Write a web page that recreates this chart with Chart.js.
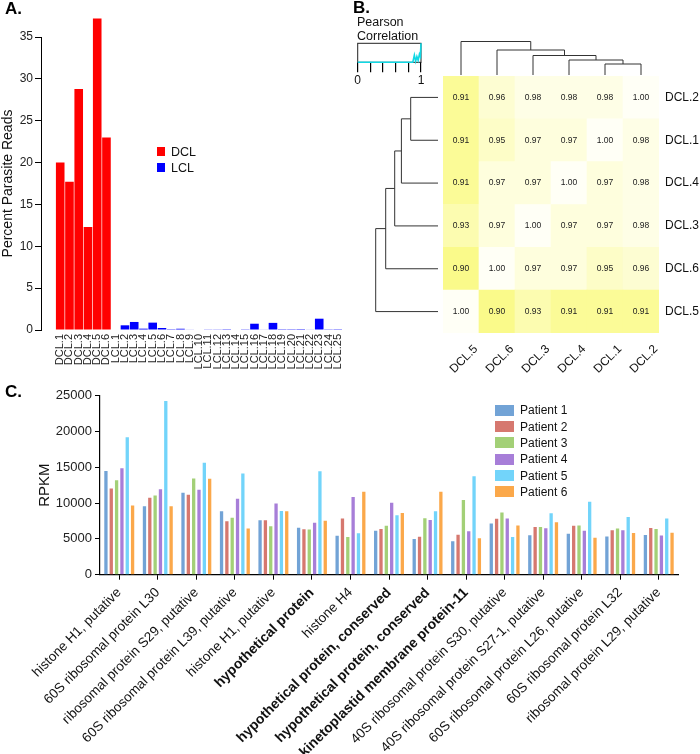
<!DOCTYPE html>
<html><head><meta charset="utf-8">
<script src="https://cdn.jsdelivr.net/npm/chart.js@4.4.1/dist/chart.umd.min.js"></script>
<style>
body{margin:0;background:#fff;font-family:"Liberation Sans",Arial,sans-serif;}
#wrap{position:relative;width:700px;height:754px;overflow:hidden;background:#fff;}
canvas{position:absolute;}
.t{position:absolute;white-space:nowrap;color:#111;line-height:1;}
.pl{font-weight:bold;font-size:17px;color:#000;}
.sw{position:absolute;}
</style></head><body><div id="wrap">
<canvas id="cA" width="355" height="380" style="left:0;top:0"></canvas>
<canvas id="cB" width="360" height="375" style="left:340px;top:0"></canvas>
<canvas id="cK" width="100" height="52" style="left:340px;top:36px"></canvas>
<canvas id="cC" width="700" height="374" style="left:0;top:380px"></canvas>
<div class="t pl" style="left:5px;top:0px">A.</div>
<div class="t pl" style="left:353px;top:-1px">B.</div>
<div class="t pl" style="left:5px;top:383px">C.</div>
<div class="t" style="left:357px;top:15.5px;font-size:12.5px">Pearson</div>
<div class="t" style="left:357px;top:30px;font-size:12.5px">Correlation</div>
<div id="legA"></div>
<div id="legC"></div>
</div>
<script>
// ---------- Panel A data ----------
const sampleLabels = ['DCL.1','DCL.2','DCL.3','DCL.4','DCL.5','DCL.6',
  'LCL.1','LCL.2','LCL.3','LCL.4','LCL.5','LCL.6','LCL.7','LCL.8','LCL.9','LCL.10',
  'LCL.11','LCL.12','LCL.13','LCL.14','LCL.15','LCL.16','LCL.17','LCL.18','LCL.19','LCL.20',
  'LCL.21','LCL.22','LCL.23','LCL.24','LCL.25'];
const dclValues = [20.0, 17.7, 28.8, 12.3, 37.2, 23.0];
const lclValues = [0.0, 0.56, 0.96, 0.16, 0.88, 0.24, 0.02, 0.15, 0.05, 0.0,
  0.04, 0.08, 0.02, 0.0, 0.03, 0.75, 0.05, 0.85, 0.02, 0.02,
  0.01, 0.05, 1.35, 0.03, 0.02];
const percentTicks = [0, 5, 10, 15, 20, 25, 30, 35];

// ---------- Panel B data ----------
const colLabels = ['DCL.5','DCL.6','DCL.3','DCL.4','DCL.1','DCL.2'];
const rowLabels = ['DCL.2','DCL.1','DCL.4','DCL.3','DCL.6','DCL.5'];
const corrDCL2 = [0.91, 0.96, 0.98, 0.98, 0.98, 1.00];
const corrDCL1 = [0.91, 0.95, 0.97, 0.97, 1.00, 0.98];
const corrDCL4 = [0.91, 0.97, 0.97, 1.00, 0.97, 0.98];
const corrDCL3 = [0.93, 0.97, 1.00, 0.97, 0.97, 0.98];
const corrDCL6 = [0.90, 1.00, 0.97, 0.97, 0.95, 0.96];
const corrDCL5 = [1.00, 0.90, 0.93, 0.91, 0.91, 0.91];
// dendrogram link heights, merges: leaf/cluster index pairs
const colMerges = [[4,5],[3,6],[2,7],[1,8],[0,9]];
const colLinkHeights = [11, 15, 19.5, 25, 33.5];
const rowMerges = [[0,1],[2,6],[3,7],[4,8],[5,9]];
const rowLinkHeights = [27.3, 36.6, 43.3, 52.3, 62.3];
// colour key histogram
const keyHistX = [0, 0.87, 0.895, 0.915, 0.935, 0.955, 0.975, 0.99, 1.0];
const keyHistY = [0, 0, 0.38, 0.05, 0.3, 0.1, 0.42, 0.3, 1.0];

// ---------- Panel C data ----------
const geneLabels = ['histone H1, putative','60S ribosomal protein L30','ribosomal protein S29, putative',
  '60S ribosomal protein L39, putative','histone H1, putative','hypothetical protein','histone H4',
  'hypothetical protein, conserved','hypothetical protein, conserved','kinetoplastid membrane protein-11',
  '40S ribosomal protein S30, putative','40S ribosomal protein S27-1, putative',
  '60S ribosomal protein L26, putative','60S ribosomal protein L32','ribosomal protein L29, putative'];
const patient1 = [14500, 9550, 11450, 8850, 7600, 6550, 5450, 6150, 5000, 4680, 7150, 5500, 5730, 5330, 5550];
const patient2 = [12050, 10750, 11150, 7450, 7600, 6350, 7850, 6400, 5300, 5570, 7800, 6650, 6850, 6200, 6530];
const patient3 = [13200, 11050, 13450, 7950, 6750, 6300, 5250, 6850, 7900, 10420, 8700, 6650, 6870, 6460, 6400];
const patient4 = [14850, 11950, 11850, 10600, 9950, 7250, 10850, 10050, 7650, 6070, 7850, 6500, 6150, 6200, 5470];
const patient5 = [19200, 24250, 15650, 14150, 8900, 14450, 5800, 8300, 8850, 13760, 5250, 8580, 10200, 8050, 7860];
const patient6 = [9650, 9550, 13400, 6450, 8850, 7550, 11600, 8600, 11600, 5080, 6870, 7330, 5150, 5840, 5860];
const patientNames = ['Patient 1','Patient 2','Patient 3','Patient 4','Patient 5','Patient 6'];
const rpkmTicks = [0, 5000, 10000, 15000, 20000, 25000];

// ---------- styles ----------
const FONT = '"Liberation Sans", Arial, sans-serif';
Chart.defaults.font.family = FONT;
Chart.defaults.color = '#222';
Chart.defaults.animation = false;
Chart.defaults.plugins.legend.display = false;
Chart.defaults.plugins.tooltip.enabled = false;
const patientColors = ['#72a3d6','#d6786f','#a3d077','#a77ed8','#72d4fa','#fba84a'];
const boldGenes = new Set([5, 7, 8, 9]);

// HTML legends
(function(){
  const la = document.getElementById('legA');
  [['DCL','#ff0000',146.5],['LCL','#0000ff',162.5]].forEach(([n,c,y])=>{
    la.insertAdjacentHTML('beforeend',
      `<div class="sw" style="left:157px;top:${y}px;width:8px;height:9px;background:${c}"></div>`+
      `<div class="t" style="left:171px;top:${y-0.5}px;font-size:12.5px">${n}</div>`);
  });
  const lc = document.getElementById('legC');
  patientNames.forEach((n,i)=>{
    const cy = 410.3 + i*16.3;
    lc.insertAdjacentHTML('beforeend',
      `<div class="sw" style="left:495px;top:${cy-5.5}px;width:19px;height:11px;background:${patientColors[i]}"></div>`+
      `<div class="t" style="left:520px;top:${cy-6}px;font-size:12px">${n}</div>`);
  });
})();

// ---------- Chart A ----------
new Chart(document.getElementById('cA'), {
  type: 'bar',
  data: { datasets: [
    {label:'DCL', data: dclValues.map((v,i)=>({x:i, y:v})), backgroundColor:'#ff0000', clip:false},
    {label:'LCL', data: lclValues.map((v,i)=>({x:i+dclValues.length, y:v})), backgroundColor:'#0000ff', clip:false}
  ]},
  options: {
    responsive:false,
    layout:{padding:{top:37, right:2.4, left:0, bottom:0}},
    datasets:{bar:{barPercentage:0.93, categoryPercentage:1}},
    scales:{
      x:{type:'linear', stacked:true, min:-1.56, max:30.5,
        grid:{display:false, drawTicks:false}, border:{display:false},
        afterFit:s=>{s.height=50;},
        ticks:{stepSize:1, autoSkip:false, maxTicksLimit:100, includeBounds:false,
          minRotation:90, maxRotation:90, padding:4, font:{size:11}, color:'#222',
          callback:(v)=>{const r=Math.round(v); return Math.abs(v-r)<1e-6 && r>=0 ? (sampleLabels[r]||'') : '';}}},
      y:{stacked:true, min:0, max:35, afterFit:s=>{s.width=41;},
        border:{color:'#000', width:1},
        grid:{drawOnChartArea:false, color:'#000', tickLength:6},
        afterBuildTicks:s=>{s.ticks = percentTicks.map(v=>({value:v}));},
        ticks:{font:{size:12}, padding:2, color:'#222'},
        title:{display:true, text:'Percent Parasite Reads', font:{size:14}, color:'#111', padding:{top:0,bottom:0}}}
    }
  }
});

// ---------- Chart B (heatmap) ----------
function heatColor(v){
  const t = Math.max(0, Math.min(1, (1 - v) / 0.1));
  const rg = Math.round(255 - 5*t);
  const b = Math.round(246 - 108*Math.pow(t, 1.2));
  return `rgb(${rg},${rg},${b})`;
}
const corrMatrix = [corrDCL2, corrDCL1, corrDCL4, corrDCL3, corrDCL6, corrDCL5];
const heatDatasets = [];
for (let k = rowLabels.length - 1; k >= 0; k--) {
  heatDatasets.push({
    label: rowLabels[k],
    data: colLabels.map(()=>1),
    corr: corrMatrix[k],
    backgroundColor: corrMatrix[k].map(heatColor),
    borderWidth: 0
  });
}
const heatPlugin = {
  id:'heatExtras',
  afterDatasetsDraw(chart){
    const ctx = chart.ctx;
    ctx.save();
    ctx.font = '8.5px ' + FONT;
    ctx.fillStyle = '#222';
    ctx.textAlign = 'center';
    ctx.textBaseline = 'middle';
    chart.data.datasets.forEach((ds, d)=>{
      const meta = chart.getDatasetMeta(d);
      meta.data.forEach((el, i)=>{
        ctx.fillText(ds.corr[i].toFixed(2), el.x, (el.y + el.base)/2);
      });
    });
    // dendrograms
    ctx.strokeStyle = '#333';
    ctx.lineWidth = 1;
    const area = chart.chartArea;
    const xs = chart.scales.x;
    const baseY = area.top - 1;
    const cn = colLabels.map((_, i)=>({p: xs.getPixelForValue(i), h:0}));
    ctx.beginPath();
    colMerges.forEach(([a,b], m)=>{
      const A = cn[a], B = cn[b], h = colLinkHeights[m];
      const y = baseY - h;
      ctx.moveTo(A.p, baseY - A.h); ctx.lineTo(A.p, y); ctx.lineTo(B.p, y); ctx.lineTo(B.p, baseY - B.h);
      cn.push({p:(A.p + B.p)/2, h});
    });
    ctx.stroke();
    const ys = chart.scales.y2;
    const baseX = area.left - 5;
    const rn = rowLabels.map((_, i)=>({p: ys.getPixelForValue(i), h:0}));
    ctx.beginPath();
    rowMerges.forEach(([a,b], m)=>{
      const A = rn[a], B = rn[b], h = rowLinkHeights[m];
      const x = baseX - h;
      ctx.moveTo(baseX - A.h, A.p); ctx.lineTo(x, A.p); ctx.lineTo(x, B.p); ctx.lineTo(baseX - B.h, B.p);
      rn.push({p:(A.p + B.p)/2, h});
    });
    ctx.stroke();
    ctx.restore();
  }
};
new Chart(document.getElementById('cB'), {
  type:'bar',
  data:{labels: colLabels, datasets: heatDatasets},
  options:{
    responsive:false,
    layout:{padding:{left:103, top:76, right:0, bottom:0}},
    datasets:{bar:{barPercentage:1, categoryPercentage:1}},
    scales:{
      x:{stacked:true, grid:{display:false}, border:{display:false},
        afterFit:s=>{s.height=42;},
        ticks:{minRotation:45, maxRotation:45, labelOffset:15, padding:1, font:{size:12}, color:'#111'}},
      y:{stacked:true, min:0, max:6, display:false},
      y2:{type:'category', labels: rowLabels, position:'right', offset:true,
        grid:{display:false, drawTicks:false}, border:{display:false},
        afterFit:s=>{s.width=41;},
        ticks:{padding:6, font:{size:12}, color:'#111'}}
    }
  },
  plugins:[heatPlugin]
});

// ---------- Colour key ----------
const keyBox = {
  id:'keyBox',
  beforeDatasetsDraw(chart){
    const {ctx, chartArea:a} = chart;
    ctx.save(); ctx.strokeStyle='#222'; ctx.lineWidth=1;
    ctx.strokeRect(a.left, a.top, a.right-a.left, a.bottom-a.top);
    ctx.restore();
  }
};
new Chart(document.getElementById('cK'), {
  type:'line',
  data:{datasets:[{data: keyHistX.map((x,i)=>({x, y:keyHistY[i]})), borderColor:'#10d8e4', borderWidth:1.6,
    pointRadius:0, tension:0, clip:false}]},
  options:{
    responsive:false,
    layout:{padding:{left:17.7, right:19, top:7.3, bottom:0}},
    scales:{
      x:{type:'linear', min:0, max:1, border:{display:false},
        afterFit:s=>{s.height=25.7;},
        grid:{drawOnChartArea:false, color:'#000', tickLength:10, lineWidth:1.2},
        ticks:{stepSize:0.2, autoSkip:false, maxRotation:0, padding:1, font:{size:12}, color:'#111',
          callback:v=>(Math.abs(v)<1e-9 ? '0' : (Math.abs(v-1)<1e-9 ? '1' : ''))}},
      y:{min:0, max:1, display:false}
    }
  },
  plugins:[keyBox]
});

// ---------- Chart C ----------
const patientSeries = [patient1, patient2, patient3, patient4, patient5, patient6];
new Chart(document.getElementById('cC'), {
  type:'bar',
  data:{labels: geneLabels, datasets: patientSeries.map((s,i)=>({
    label: patientNames[i], data: s, backgroundColor: patientColors[i], borderWidth:0}))},
  options:{
    responsive:false,
    layout:{padding:{top:15.7, right:22, left:0, bottom:0}},
    datasets:{bar:{categoryPercentage:0.83, barPercentage:0.62}},
    scales:{
      x:{grid:{offset:false, drawOnChartArea:false, color:'#000', tickLength:5},
        border:{color:'#000', width:1.2},
        afterFit:s=>{s.height=179.3;},
        ticks:{autoSkip:false, minRotation:45, maxRotation:45, padding:5, color:'#111',
          font:(c)=>(boldGenes.has(c.index) ? {size:14, weight:'bold'} : {size:13.5, weight:'normal'})}},
      y:{min:0, max:25000, afterFit:s=>{s.width=100;},
        border:{color:'#000', width:1.2},
        grid:{drawOnChartArea:false, color:'#000', tickLength:5},
        afterBuildTicks:s=>{s.ticks = rpkmTicks.map(v=>({value:v}));},
        ticks:{font:{size:13}, padding:3, color:'#222', callback:v=>String(v)},
        title:{display:true, text:'RPKM', font:{size:15}, color:'#111', padding:{top:36, bottom:0}}}
    }
  }
});
</script>
</body></html>
